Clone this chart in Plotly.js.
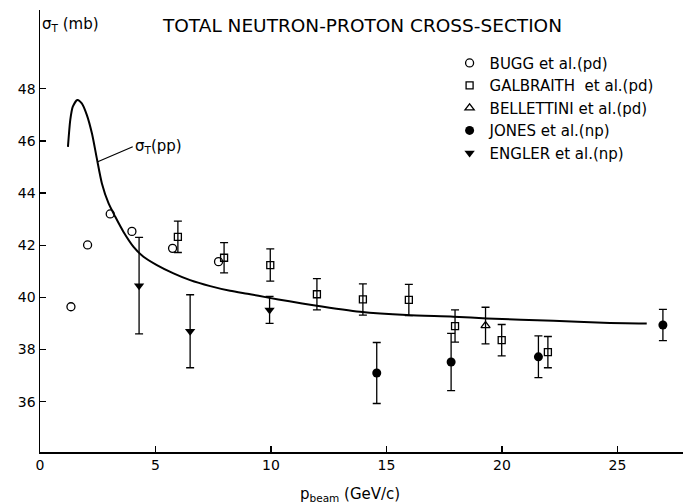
<!DOCTYPE html>
<html>
<head>
<meta charset="utf-8">
<script src="https://cdn.plot.ly/plotly-3.0.1.min.js"></script>
<style>html,body{margin:0;padding:0;background:#fff;}</style>
</head>
<body>
<div id="chart" style="width:683px;height:504px;"></div>
<script>
// sigma_T(pp) reference curve
const curveX = [1.21, 1.31, 1.42, 1.62, 1.81, 2.03, 2.25, 2.46, 2.68, 2.97, 3.26, 3.61, 4.05, 4.48, 5.06, 5.78, 6.50, 7.37, 8.23, 9.10, 9.82, 10.8, 11.84, 13.86, 15.88, 17.9, 19.35, 22.23, 24.39, 26.27];
const curveY = [45.77, 46.80, 47.31, 47.57, 47.44, 46.99, 46.28, 45.33, 44.37, 43.60, 43.09, 42.52, 41.94, 41.56, 41.24, 40.92, 40.66, 40.43, 40.25, 40.12, 40.00, 39.85, 39.70, 39.45, 39.32, 39.26, 39.19, 39.10, 39.03, 39.00];

// BUGG et al. (pd)
const buggX = [1.34, 2.06, 3.04, 3.98, 5.74, 7.73];
const buggY = [39.64, 42.01, 43.20, 42.53, 41.88, 41.37];

// GALBRAITH et al. (pd)
const galX = [5.97, 7.97, 9.97, 11.99, 13.98, 15.97, 17.97, 19.99, 21.99];
const galY = [42.32, 41.52, 41.24, 40.12, 39.92, 39.90, 38.90, 38.36, 37.90];
const galE = [0.6, 0.58, 0.62, 0.6, 0.6, 0.6, 0.62, 0.6, 0.6];

// BELLETTINI et al. (pd)
const belX = [19.29];
const belY = [38.92];
const belE = [0.7];

// JONES et al. (np)
const jonX = [14.58, 17.80, 21.58, 26.97];
const jonY = [37.10, 37.52, 37.72, 38.94];
const jonE = [1.17, 1.1, 0.8, 0.6];

// ENGLER et al. (np)
const engX = [4.29, 6.50, 9.94];
const engY = [40.45, 38.70, 39.52];
const engE = [1.85, 1.4, 0.52];

const xTicks = [0, 5, 10, 15, 20, 25];
const yTicks = [36, 38, 40, 42, 44, 46, 48];

const FONT = "DejaVu Sans, Liberation Sans, sans-serif";
const K = "#000";

function errBar(arr) {
  return {type: "data", array: arr, visible: true, color: K, thickness: 1.3, width: 4};
}

const traces = [
  {x: curveX, y: curveY, mode: "lines", line: {color: K, width: 2, shape: "spline", smoothing: 0.7}, showlegend: false, hoverinfo: "skip"},
  {x: buggX, y: buggY, mode: "markers", name: "BUGG et al.(pd)",
   marker: {symbol: "circle-open", size: 8, color: K, line: {width: 1.3, color: K}}},
  {x: galX, y: galY, mode: "markers", name: "GALBRAITH  et al.(pd)",
   marker: {symbol: "square-open", size: 7, color: K, line: {width: 1.3, color: K}}, error_y: errBar(galE)},
  {x: belX, y: belY, mode: "markers", name: "BELLETTINI et al.(pd)",
   marker: {symbol: "triangle-up-open", size: 8, color: K, line: {width: 1.3, color: K}}, error_y: errBar(belE)},
  {x: jonX, y: jonY, mode: "markers", name: "JONES et al.(np)",
   marker: {symbol: "circle", size: 9, color: K}, error_y: errBar(jonE)},
  {x: engX, y: engY, mode: "markers", name: "ENGLER et al.(np)",
   marker: {symbol: "triangle-down", size: 9, color: K}, error_y: errBar(engE)}
];

const layout = {
  width: 683, height: 504,
  margin: {l: 40, r: 0, t: 10, b: 52, pad: 0},
  paper_bgcolor: "#fff", plot_bgcolor: "#fff",
  font: {family: FONT, color: K, size: 14},
  title: {text: "TOTAL NEUTRON-PROTON CROSS-SECTION", font: {family: FONT, size: 18.5, color: K},
          x: 163 / 683, xanchor: "left", xref: "container", y: 1 - 26 / 504, yanchor: "middle", yref: "container"},
  xaxis: {range: [0, 27.84], tickvals: xTicks, ticktext: xTicks.map(String), ticks: "inside", ticklen: 6, tickwidth: 1.3,
          tickcolor: K, showline: true, linecolor: K, linewidth: 1.5, showgrid: false, zeroline: false,
          tickfont: {family: FONT, size: 14, color: K}, fixedrange: true},
  yaxis: {range: [34.07, 51.02], tickvals: yTicks, ticktext: yTicks.map(String), ticks: "inside", ticklen: 6, tickwidth: 1.3,
          tickcolor: K, showline: true, linecolor: K, linewidth: 1.5, showgrid: false, zeroline: false,
          tickfont: {family: FONT, size: 14, color: K}, fixedrange: true},
  legend: {x: 0.637, y: 0.917, xanchor: "left", yanchor: "top", bgcolor: "rgba(0,0,0,0)", borderwidth: 0,
           font: {family: FONT, size: 15, color: K}, tracegroupgap: 0},
  annotations: [
    {text: "σ<sub>T</sub> (mb)", xref: "paper", yref: "paper", x: 0.0, y: (452 - 25) / 442, xanchor: "left", yanchor: "middle",
     showarrow: false, font: {family: FONT, size: 15, color: K}},
    {text: "p<sub>beam</sub> (GeV/c)", xref: "paper", yref: "paper", x: (350 - 40) / 643, y: (452 - 494) / 442, xanchor: "center", yanchor: "middle",
     showarrow: false, font: {family: FONT, size: 15, color: K}},
    {text: "σ<sub>T</sub>(pp)", x: 2.5, y: 45.2, xref: "x", yref: "y", showarrow: true, arrowhead: 0, arrowwidth: 1.2, arrowcolor: K,
     ax: 35, ay: -15, xanchor: "left", yanchor: "middle", font: {family: FONT, size: 15, color: K}, standoff: 0}
  ]
};

Plotly.newPlot("chart", traces, layout, {displayModeBar: false, staticPlot: true});
</script>
</body>
</html>
